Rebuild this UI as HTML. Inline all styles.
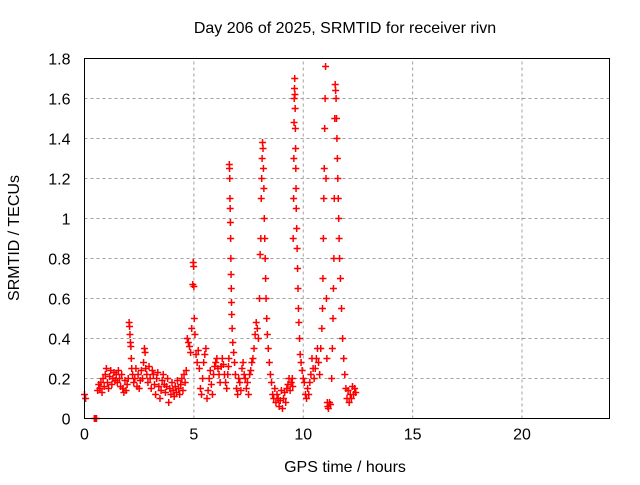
<!DOCTYPE html>
<html><head><meta charset="utf-8"><style>
body{margin:0;background:#fff;font-family:"Liberation Sans",sans-serif;}
svg text{font-family:"Liberation Sans",sans-serif;font-size:16px;fill:#000;}
</style></head><body>
<svg id="chart" width="640" height="480" xmlns="http://www.w3.org/2000/svg">
<rect width="640" height="480" fill="#fff"/>
<text x="345" y="33" text-anchor="middle">Day 206 of 2025, SRMTID for receiver rivn</text>
<text x="345" y="472" text-anchor="middle">GPS time / hours</text>
<text transform="translate(19,238) rotate(-90)" text-anchor="middle">SRMTID / TECUs</text>
<g id="grid"></g>
<g id="ticks"></g>
<g id="marks"></g>
<rect x="84.5" y="58.5" width="525" height="360" fill="none" stroke="#000" stroke-width="1"/>
</svg>
<script>
const xTicks=[0,5,10,15,20];
const yTicks=[0,0.2,0.4,0.6,0.8,1,1.2,1.4,1.6,1.8];
const yTickLabels=["0","0.2","0.4","0.6","0.8","1","1.2","1.4","1.6","1.8"];
const hours=[0,0.05,0.45,0.5,0.55,
0.6,0.65,0.7,0.75,0.8,0.85,0.9,0.95,1.0,1.05,1.1,1.15,1.2,1.25,1.3,1.35,1.4,1.45,1.5,1.55,1.6,1.65,1.7,1.75,1.8,1.85,1.9,1.95,2.0,
2.04,2.06,2.08,2.1,2.12,2.14,2.16,2.2,2.25,2.3,2.35,2.4,2.45,2.5,2.55,2.6,2.65,2.7,2.74,2.77,2.8,2.85,2.9,2.95,3.0,3.05,3.1,3.15,3.2,3.25,3.3,3.35,3.4,3.45,3.5,3.55,3.6,3.65,3.7,3.75,3.8,3.85,3.9,3.95,4.0,4.05,4.1,4.15,4.2,4.25,4.3,4.35,4.4,4.45,4.5,4.55,4.6,4.65,4.7,4.75,4.8,4.85,4.9,4.95,4.97,4.99,5.0,5.02,5.05,5.1,5.15,5.2,5.25,5.3,5.35,5.4,5.45,5.5,5.55,5.6,5.65,5.7,5.75,5.8,5.85,5.9,5.95,6.0,6.05,6.1,6.15,6.2,6.25,6.3,6.35,6.4,6.45,6.5,6.55,6.58,
6.6,6.62,6.63,6.64,6.65,6.66,6.67,6.68,6.69,6.7,6.71,6.72,6.73,6.75,6.78,6.82,6.86,6.9,6.95,7.0,7.05,7.1,7.15,7.2,7.25,7.3,7.35,7.4,7.45,7.5,7.55,7.6,7.65,7.7,7.75,7.8,7.85,7.9,7.95,8.0,8.03,8.06,8.08,8.1,8.12,8.14,8.16,8.18,8.2,8.22,8.24,8.26,8.28,8.3,8.33,8.36,8.4,8.45,8.5,8.55,8.6,8.65,8.7,8.75,8.8,8.85,8.9,8.95,9.0,9.05,9.1,9.15,9.2,9.25,9.3,9.35,9.4,9.45,9.5,
9.52,9.54,9.56,9.57,9.58,9.59,9.6,9.61,9.62,9.63,9.64,9.65,9.66,9.67,9.68,9.7,9.72,9.74,9.76,9.78,9.8,9.83,9.86,9.9,9.95,10.0,10.05,10.1,10.15,10.2,10.25,10.3,10.35,10.4,10.45,10.5,10.55,10.6,10.65,10.7,10.75,10.8,10.85,10.88,10.9,10.92,10.94,10.96,10.98,11.0,11.02,11.04,11.06,11.08,11.1,11.12,11.15,11.2,11.25,11.3,11.33,11.36,11.38,11.4,11.42,11.44,11.46,11.48,11.5,11.52,11.54,11.56,11.58,11.6,11.62,11.64,11.66,11.7,11.75,11.8,11.85,11.9,11.95,12.0,12.05,12.1,12.15,12.2,12.25,12.3,12.35,12.4];
const values=[0.12,0.1,0,0,0,
0.14,0.17,0.15,0.18,0.13,0.2,0.16,0.22,0.25,0.18,0.15,0.21,0.24,0.17,0.2,0.23,0.19,0.22,0.18,0.24,0.2,0.16,0.22,0.15,0.13,0.19,0.14,0.17,0.2,
0.48,0.46,0.42,0.38,0.36,0.3,0.25,0.22,0.18,0.2,0.25,0.16,0.22,0.15,0.19,0.24,0.2,0.28,0.35,0.33,0.25,0.22,0.18,0.26,0.2,0.15,0.24,0.22,0.17,0.12,0.2,0.23,0.16,0.1,0.14,0.19,0.22,0.17,0.13,0.16,0.2,0.08,0.15,0.12,0.18,0.14,0.11,0.16,0.13,0.19,0.15,0.12,0.17,0.2,0.14,0.22,0.18,0.24,0.4,0.38,0.36,0.33,0.45,0.67,0.78,0.76,0.66,0.5,0.42,0.32,0.28,0.34,0.25,0.15,0.12,0.2,0.28,0.32,0.35,0.1,0.14,0.2,0.24,0.17,0.12,0.22,0.26,0.28,0.3,0.25,0.22,0.18,0.26,0.3,0.27,0.22,0.18,0.15,0.22,0.26,0.3,
1.27,1.25,1.2,1.1,1.05,0.98,0.9,0.8,0.72,0.65,0.58,0.52,0.45,0.38,0.33,0.28,0.22,0.15,0.12,0.2,0.18,0.14,0.25,0.28,0.22,0.2,0.15,0.18,0.12,0.22,0.24,0.28,0.3,0.35,0.42,0.48,0.45,0.4,0.6,0.82,0.9,1.1,1.2,1.3,1.38,1.35,1.25,1.15,1.0,0.9,0.8,0.7,0.6,0.5,0.42,0.35,0.28,0.22,0.18,0.12,0.1,0.15,0.08,0.12,0.1,0.06,0.09,0.14,0.05,0.1,0.13,0.08,0.15,0.17,0.2,0.14,0.18,0.2,0.16,
0.9,1.1,1.3,1.48,1.6,1.65,1.7,1.62,1.55,1.45,1.35,1.25,1.15,1.05,0.95,0.85,0.75,0.65,0.55,0.48,0.4,0.32,0.28,0.24,0.2,0.18,0.12,0.1,0.15,0.12,0.18,0.22,0.3,0.25,0.2,0.25,0.3,0.35,0.28,0.22,0.35,0.45,0.55,0.7,0.9,1.1,1.25,1.45,1.6,1.76,1.2,0.6,0.3,0.08,0.06,0.05,0.08,0.07,0.2,0.35,0.5,0.65,0.8,1.1,1.5,1.67,1.64,1.6,1.5,1.4,1.3,1.2,1.1,1.0,0.9,0.8,0.7,0.55,0.4,0.3,0.22,0.15,0.1,0.14,0.08,0.12,0.1,0.16,0.12,0.15,0.13,0.18,0.2,0.17];
const X0=84.5,XW=525,Y0=418.5,YH=360;
function xs(h){return X0+h/24*XW;}
function ys(v){return Y0-v/1.8*YH;}
const NS="http://www.w3.org/2000/svg";
const grid=document.getElementById('grid'),ticks=document.getElementById('ticks'),marks=document.getElementById('marks');
function mk(tag,at,parent){const e=document.createElementNS(NS,tag);for(const k in at)e.setAttribute(k,at[k]);parent.appendChild(e);return e;}
xTicks.forEach(function(t){
  const x=xs(t);
  if(t>0){const g=mk('line',{x1:x,y1:Y0,x2:x,y2:ys(1.8),stroke:'#a0a0a0','stroke-dasharray':'3,3'},grid);
  
  }
  const l=mk('text',{x:x,y:Y0+21,'text-anchor':'middle'},ticks);l.textContent=String(t);
  
  
});
yTicks.forEach(function(v,i){
  const y=ys(v);
  if(v>0&&v<1.8){const g=mk('line',{x1:X0,y1:y,x2:X0+XW,y2:y,stroke:'#a0a0a0','stroke-dasharray':'3,3'},grid);
  
  }
  const l=mk('text',{x:X0-14,y:y+6,'text-anchor':'end'},ticks);l.textContent=yTickLabels[i];
  
  
});
let d='';
for(let i=0;i<hours.length;i++){const x=xs(hours[i]),y=ys(values[i]);d+='M'+(x-3.5)+' '+y+'h7M'+x+' '+(y-3.5)+'v7';}
const p=mk('path',{d:d,stroke:'#ff0000','stroke-width':1.5,fill:'none'},marks);


</script>
</body></html>
